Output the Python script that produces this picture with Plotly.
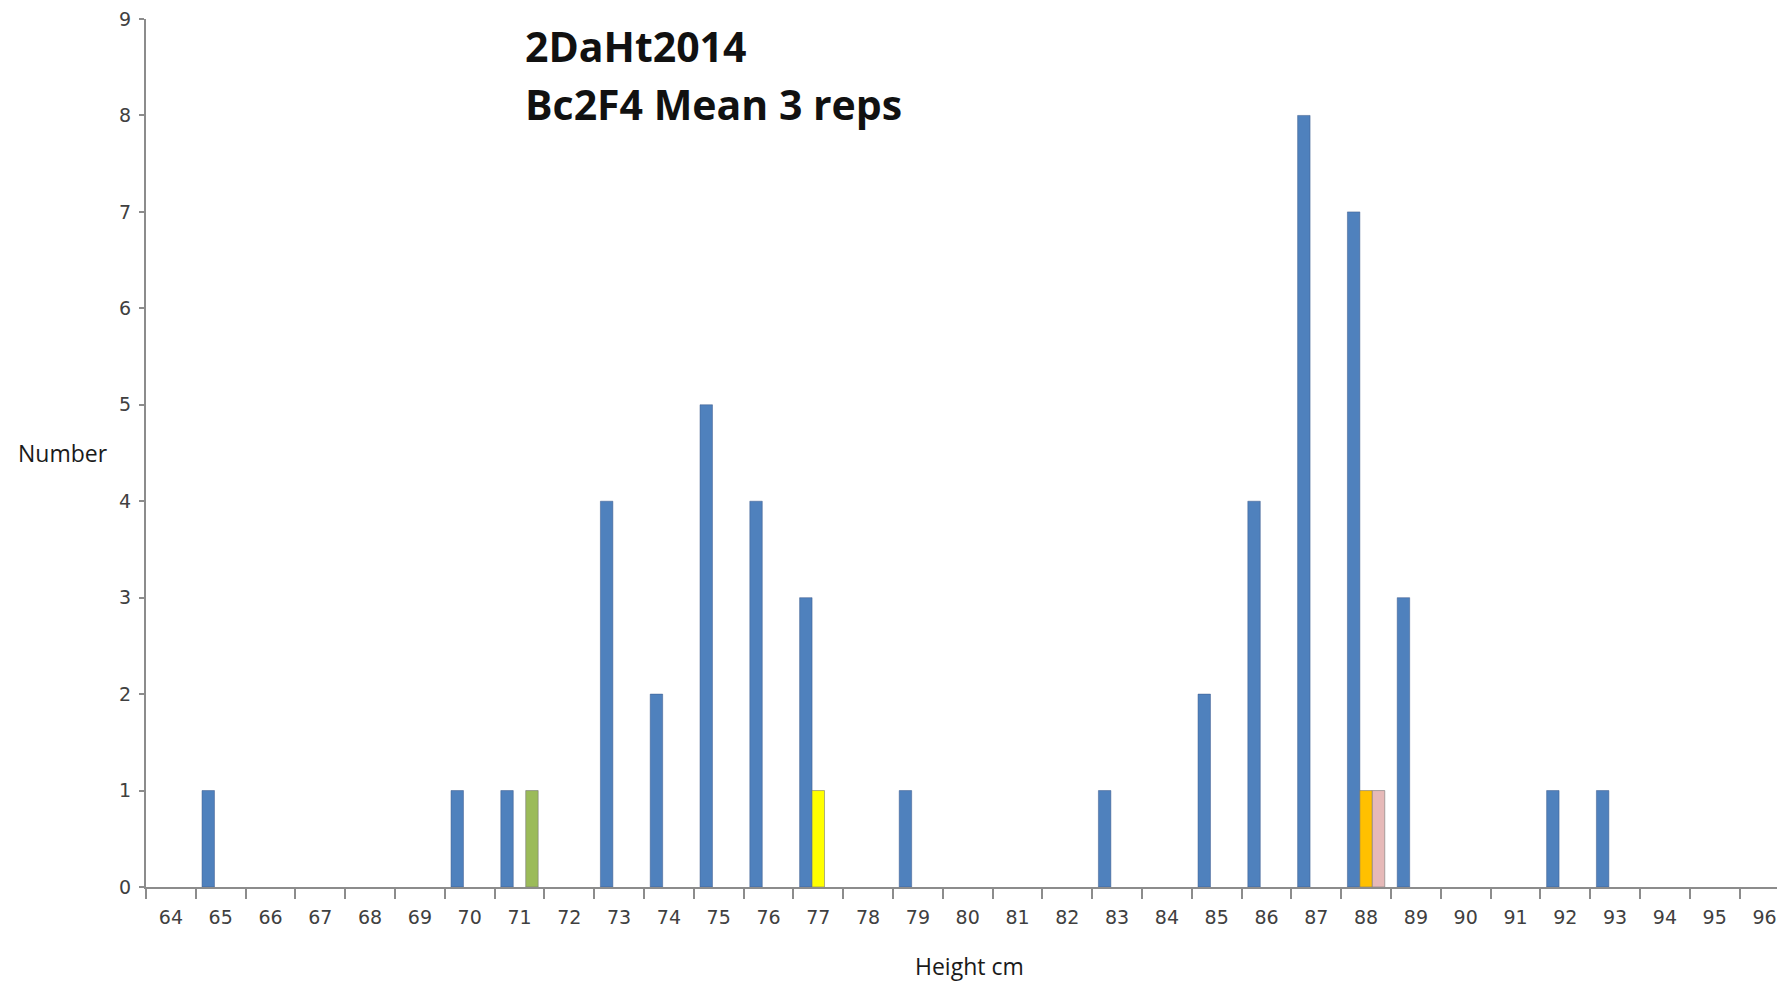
import plotly.graph_objects as go

# heights (cm) on the category axis
heights = [str(h) for h in range(64, 97)]

# main series (blue), count of lines per height class (None = no bar)
blue_counts = [None, 1, None, None, None, None, 1, 1, None, 4, 2, 5, 4, 3, None, 1, None,
               None, None, 1, None, 2, 4, 8, 7, 3, None, None, 1, 1, None, None, None]

# second slot: 77 (yellow) and 88 (orange)
slot2_counts = [None] * 33
slot2_counts[heights.index("77")] = 1
slot2_counts[heights.index("88")] = 1
slot2_colors = ["#FFFF00" if h == "77" else "#FFC000" for h in heights]

# third slot: 71 (green) and 88 (pink)
slot3_counts = [None] * 33
slot3_counts[heights.index("71")] = 1
slot3_counts[heights.index("88")] = 1
slot3_colors = ["#9BBB59" if h == "71" else "#E6B9B8" for h in heights]

title_lines = ["2DaHt2014", "Bc2F4 Mean 3 reps"]

W, H = 1785, 981
# page body adds 8px, so margins are shifted by that
ML, MR, MT, MB = 138, 0, 11, 102
plot_w = W - ML - MR
plot_h = H - MT - MB
cat_w = 49.8  # px per height class in the reference

AXIS_GREY = "#8C8C8C"
TICK_FONT = dict(family="DejaVu Sans", size=19, color="#404040")
LABEL_FONT = dict(family="Open Sans", size=23, color="#1a1a1a")

fig = go.Figure()
fig.add_trace(go.Bar(x=heights, y=blue_counts, marker_color="#4F81BD",
                     marker_line=dict(color="rgba(60,90,140,0.5)", width=1),
                     name="Bc2F4"))
fig.add_trace(go.Bar(x=heights, y=slot2_counts, marker_color=slot2_colors,
                     marker_line=dict(color="rgba(120,120,120,0.6)", width=1),
                     name="slot2"))
fig.add_trace(go.Bar(x=heights, y=slot3_counts, marker_color=slot3_colors,
                     marker_line=dict(color="rgba(120,120,120,0.6)", width=1),
                     name="slot3"))

annos = []
for i, line in enumerate(title_lines):
    annos.append(dict(text="<b>" + line + "</b>", xref="paper", yref="paper",
                      x=(515 - ML) / plot_w, y=1 - (38 + 58 * i - MT) / plot_h,
                      xanchor="left", yanchor="middle", showarrow=False,
                      font=dict(family="Open Sans", size=41, color="#111111")))
annos.append(dict(text="Number", xref="paper", yref="paper",
                  x=(8 - ML) / plot_w, y=0.5, xanchor="left", yanchor="middle",
                  showarrow=False, font=LABEL_FONT))
annos.append(dict(text="Height cm", xref="paper", yref="paper",
                  x=(961 - ML) / plot_w, y=-79 / plot_h, xanchor="center",
                  yanchor="middle", showarrow=False, font=LABEL_FONT))

fig.update_layout(
    width=W, height=H,
    margin=dict(l=ML, r=MR, t=MT, b=MB),
    paper_bgcolor="white", plot_bgcolor="white",
    barmode="group", bargap=0.25, bargroupgap=0,
    showlegend=False,
    xaxis=dict(type="category", range=[-0.5, -0.5 + plot_w / cat_w],
               tickson="boundaries", ticks="outside", ticklen=10,
               tickcolor=AXIS_GREY, tickwidth=1.5,
               showline=True, linecolor=AXIS_GREY, linewidth=2,
               showgrid=False, tickfont=TICK_FONT, ticklabelstandoff=12,
               ticklabeloverflow="allow"),
    yaxis=dict(range=[0, 9], dtick=1, ticks="outside", ticklen=5,
               tickcolor=AXIS_GREY, tickwidth=1.5,
               showline=True, linecolor=AXIS_GREY, linewidth=2,
               showgrid=False, zeroline=False, tickfont=TICK_FONT,
               ticklabelstandoff=4, ticklabeloverflow="allow"),
    annotations=annos,
)

fig.write_html("out.html")
